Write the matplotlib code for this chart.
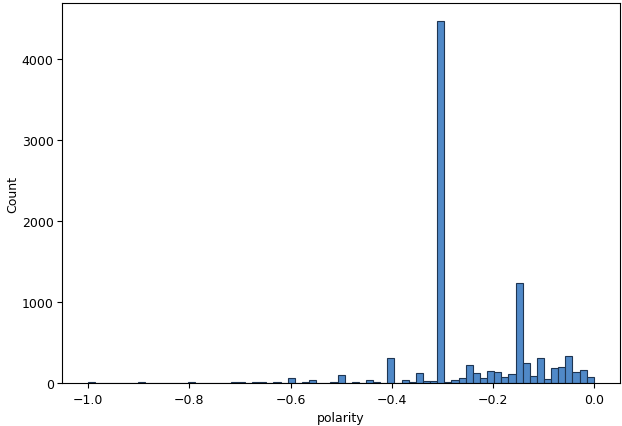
import numpy as np
import matplotlib
matplotlib.use('Agg')
import matplotlib.pyplot as plt
import seaborn as sns

# histogram of polarity, 71 equal bins from -1 to 0
n_bins = 71
bin_edges = np.linspace(-1.0, 0.0, n_bins + 1)

# non-empty bins: index -> count
bin_index = [0, 7, 14, 20, 21, 23, 24, 26, 28, 30, 31, 34, 35, 37, 38, 39, 40,
             42, 43, 44, 45, 46, 47, 48, 49, 50, 51, 52, 53, 54, 55, 56, 57,
             58, 59, 60, 61, 62, 63, 64, 65, 66, 67, 68, 69, 70]
bin_count = [12, 10, 12, 10, 14, 10, 12, 8, 58, 10, 33, 8, 95, 12, 5, 33, 12,
             305, 5, 33, 8, 120, 20, 20, 4474, 12, 37, 62, 218, 119, 62, 144, 132,
             70, 107, 1231, 243, 82, 305, 45, 181, 193, 329, 132, 157, 74]

centers = [(bin_edges[i] + bin_edges[i + 1]) / 2 for i in bin_index]

plt.rcParams['font.size'] = 9

fig = plt.figure(figsize=(6.22, 4.27), dpi=100)
ax = fig.add_axes([0.0997, 0.1007, 0.8973, 0.8899])
sns.histplot(x=centers, weights=bin_count, bins=n_bins, binrange=(-1.0, 0.0), ax=ax,
             color='#5089c8', alpha=1.0, edgecolor='#1e3552', linewidth=0.8)
ax.set_xlabel('polarity')
ax.set_ylabel('Count', labelpad=2)
ax.set_xlim(-1.052, 0.052)
ax.set_yticks([0, 1000, 2000, 3000, 4000])
ax.tick_params(axis='y', pad=2.5)

fig.savefig('out.png', dpi=100)
